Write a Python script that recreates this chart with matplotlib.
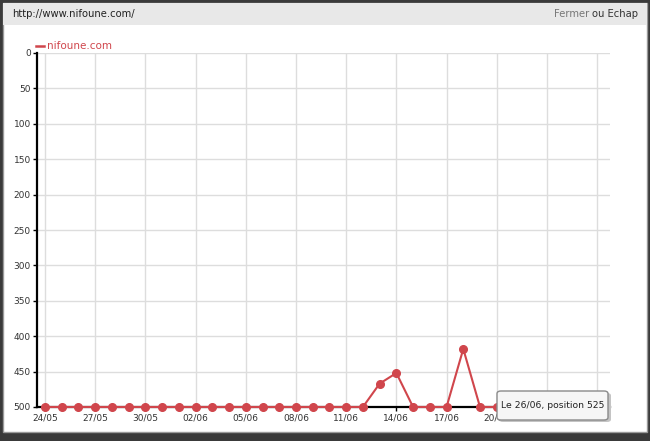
import numpy as np
import matplotlib
matplotlib.use("Agg")
from matplotlib import pyplot as plt
from matplotlib.patches import Rectangle, FancyBboxPatch

# daily positions from 24/05 to 20/06 (later days hidden under tooltip)
dates = ["24/05", "25/05", "26/05", "27/05", "28/05", "29/05", "30/05", "31/05",
         "01/06", "02/06", "03/06", "04/06", "05/06", "06/06", "07/06", "08/06",
         "09/06", "10/06", "11/06", "12/06", "13/06", "14/06", "15/06", "16/06",
         "17/06", "18/06", "19/06", "20/06"]
positions = [500, 500, 500, 500, 500, 500, 500, 500,
             500, 500, 500, 500, 500, 500, 500, 500,
             500, 500, 500, 500, 467, 452, 500, 500,
             500, 418, 500, 500]
tick_labels = ["24/05", "27/05", "30/05", "02/06", "05/06", "08/06", "11/06",
               "14/06", "17/06", "20/06", "23/06", "26/06"]
y_ticks = [0, 50, 100, 150, 200, 250, 300, 350, 400, 450, 500]

red = "#d0464c"

fig = plt.figure(figsize=(6.5, 4.41), dpi=100)
fig.patch.set_facecolor("#3a3a3a")
W, H = 650, 441
# content frame
fig.patches.append(Rectangle((3 / W, 9 / H), 644 / W, 429 / H, transform=fig.transFigure,
                             facecolor="white", edgecolor="#9a9a9a", lw=1, zorder=-2))
fig.patches.append(Rectangle((3 / W, (H - 25) / H), 644 / W, 22 / H, transform=fig.transFigure,
                             facecolor="#e8e8e8", edgecolor="none", zorder=-1))
fig.text(12 / W, (H - 14) / H, "http://www.nifoune.com/", fontsize=7.2, color="#222222",
         va="center", ha="left")
fig.text(638 / W, (H - 14) / H, "ou Echap", fontsize=7.2, color="#333333", va="center", ha="right")
fig.text(589 / W, (H - 14) / H, "Fermer", fontsize=7.2, color="#777777", va="center", ha="right")

ax = fig.add_axes([37 / W, 34 / H, 573 / W, 354 / H])
ax.set_facecolor("none")
ax.set_zorder(1)
x = np.arange(len(dates))
ax.plot(x, positions, color=red, lw=1.5, marker="o", markersize=5.5, clip_on=False, zorder=3)

ax.set_ylim(500, 0)
ax.set_xlim(-0.48, 33.77)
ax.set_yticks(y_ticks)
ax.set_yticklabels([str(v) for v in y_ticks], fontsize=6.5, color="#333333")
ax.set_xticks(np.arange(0, 34, 3))
ax.set_xticklabels(tick_labels, fontsize=6.5, color="#333333")
ax.grid(True, color="#dddddd", lw=1)
ax.set_axisbelow(True)
for s in ["top", "right"]:
    ax.spines[s].set_visible(False)
ax.spines["left"].set_linewidth(1.6)
ax.spines["bottom"].set_linewidth(1.6)
ax.tick_params(axis="both", length=3, width=1, pad=1.5)

# legend
fig.lines.append(plt.Line2D([36 / W, 44 / W], [(H - 46) / H] * 2, transform=fig.transFigure,
                            color=red, lw=1.8))
fig.text(47 / W, (H - 46) / H, "nifoune.com", fontsize=7.5, color=red, va="center", ha="left")

# tooltip
fig.patches.append(FancyBboxPatch((499 / W, 19 / H), 112 / W, 29 / H, transform=fig.transFigure,
                                  boxstyle="round,pad=0,rounding_size=0.006",
                                  facecolor="#c4c4c4", edgecolor="none", zorder=5))
fig.patches.append(FancyBboxPatch((497 / W, 21 / H), 111 / W, 29 / H, transform=fig.transFigure,
                                  boxstyle="round,pad=0,rounding_size=0.006",
                                  facecolor="#f6f6f6", edgecolor="#8a8a8a", lw=1, zorder=6))
fig.text(552.5 / W, 35.5 / H, "Le 26/06, position 525", fontsize=6.7, color="#222222",
         ha="center", va="center", zorder=7)

fig.savefig("out.png", dpi=100, facecolor=fig.get_facecolor())
